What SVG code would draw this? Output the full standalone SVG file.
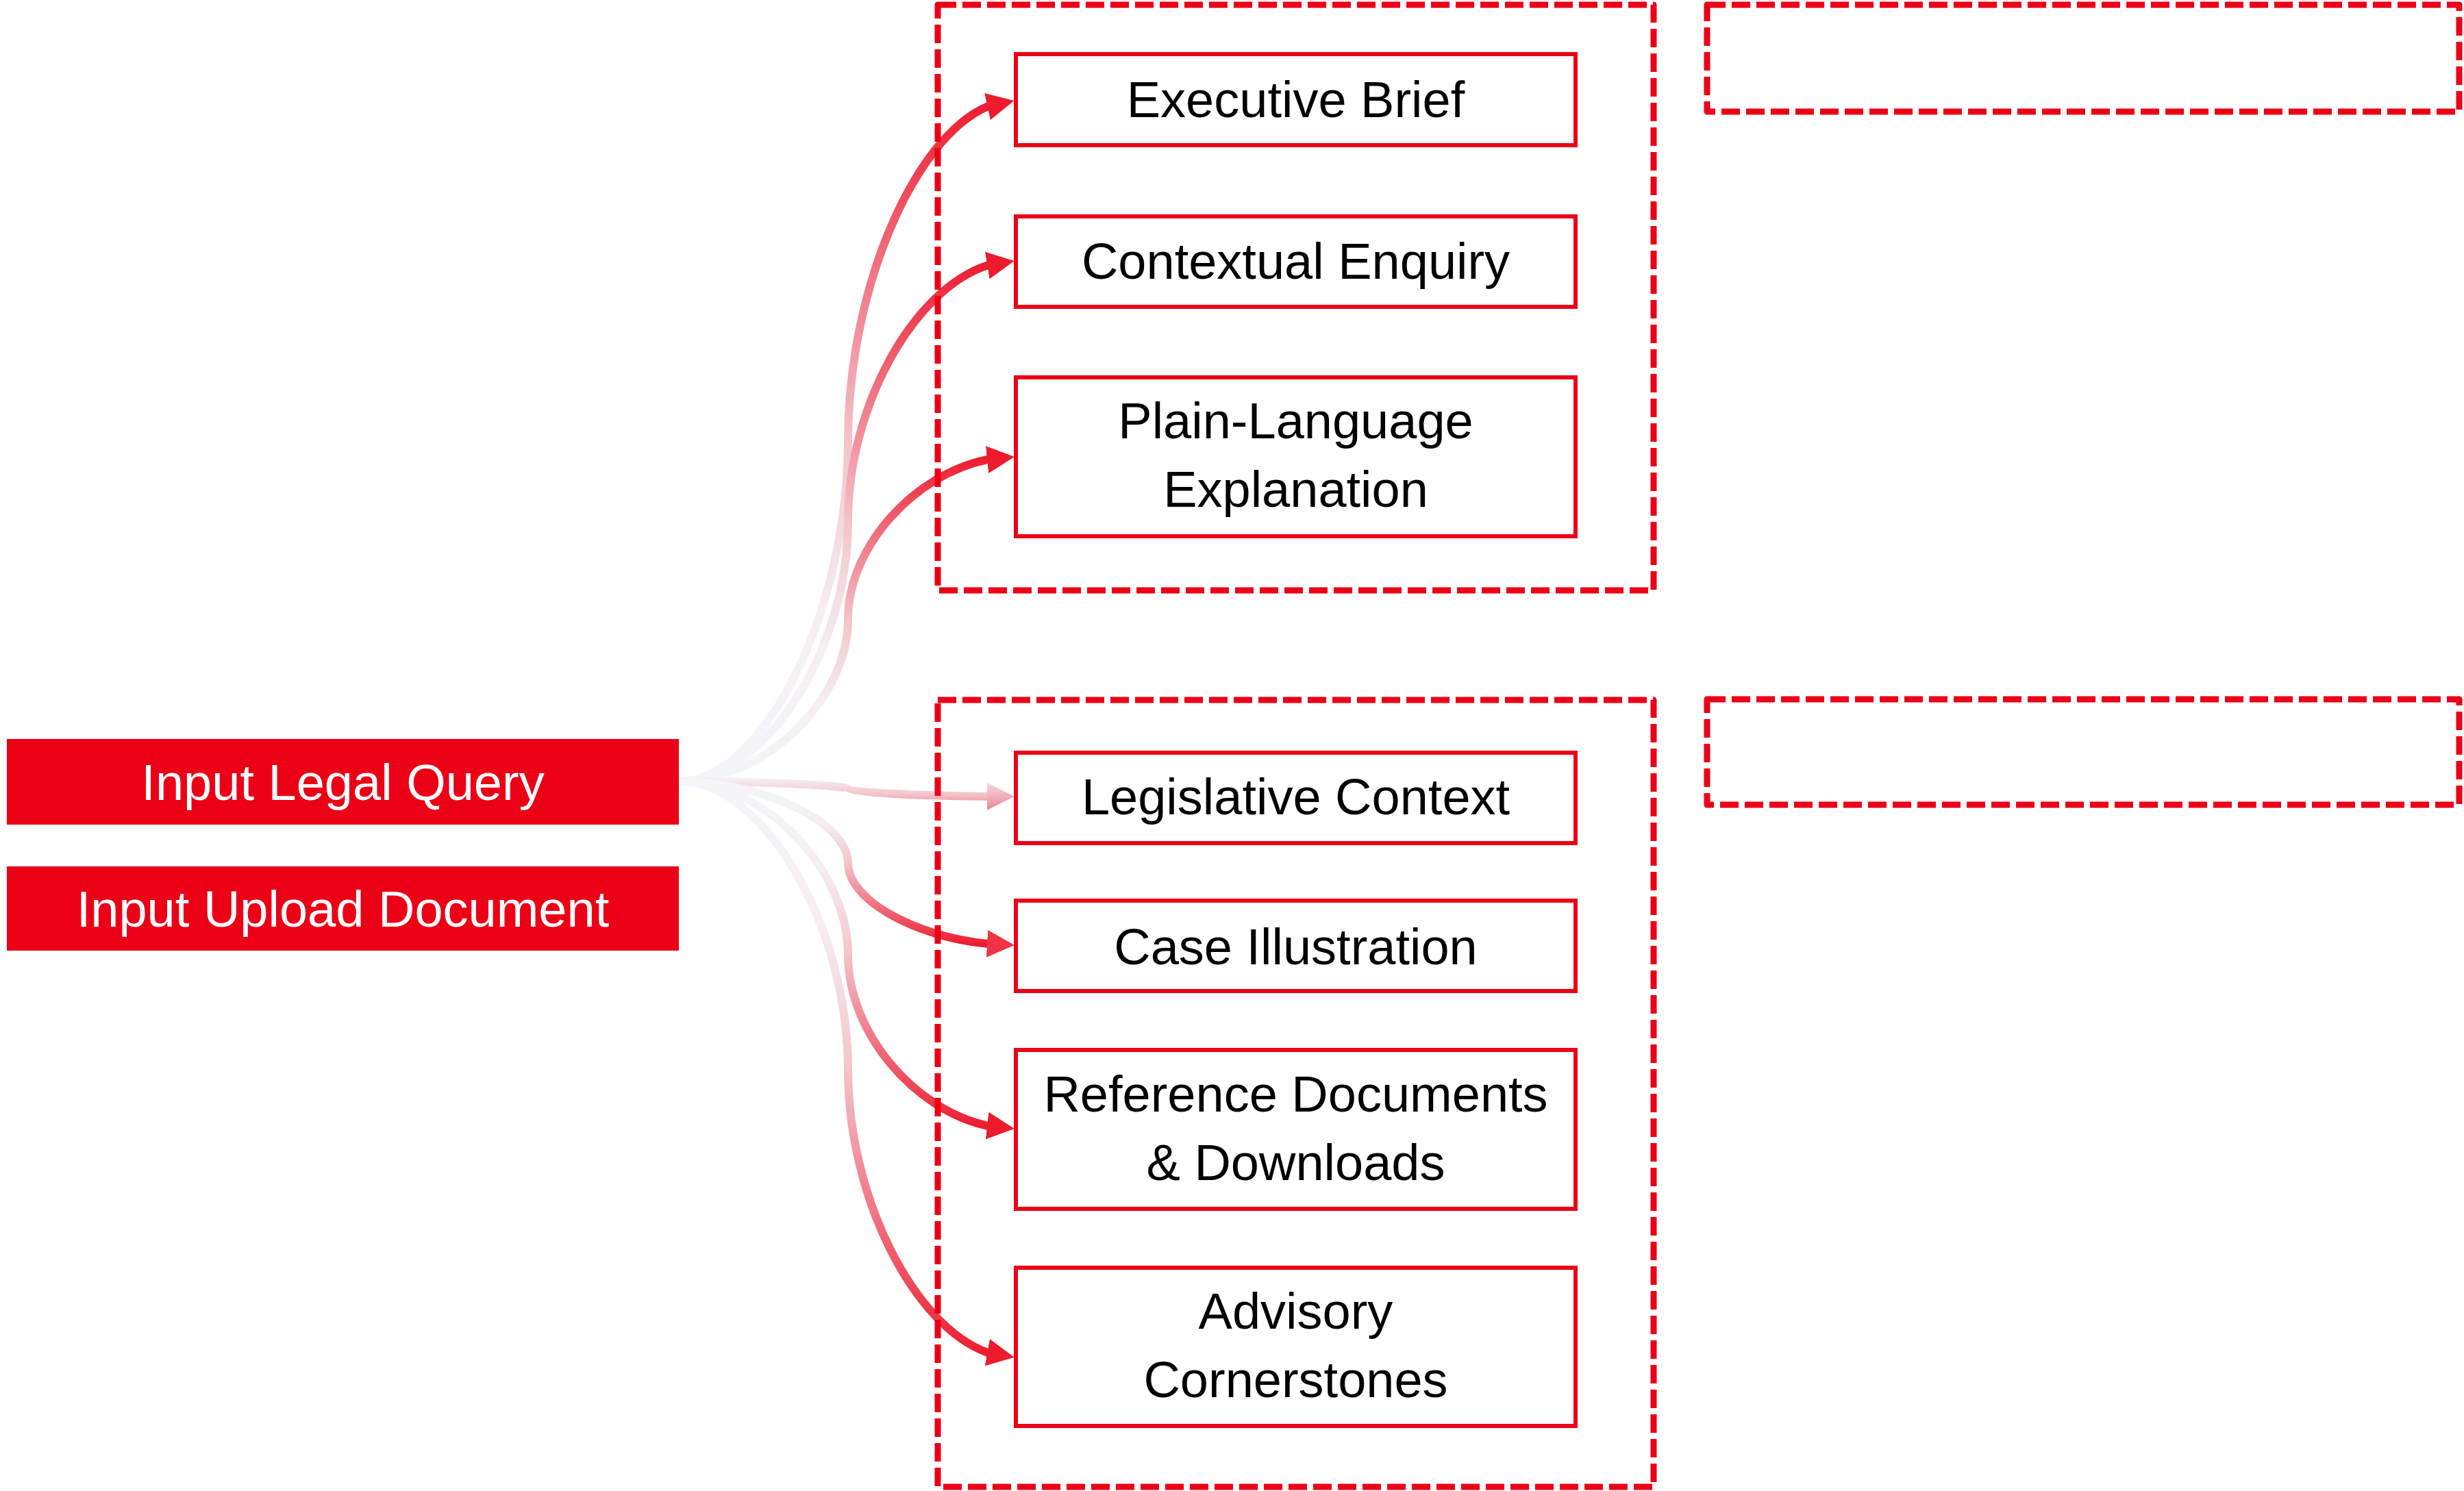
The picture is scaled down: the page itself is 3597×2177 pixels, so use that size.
<svg xmlns="http://www.w3.org/2000/svg" xmlns:xlink="http://www.w3.org/1999/xlink" width="3597" height="2177" viewBox="0 0 3597 2177">
  <style>
    .txt { font-family: "Liberation Sans", Arial, sans-serif; font-size: 74px; text-anchor: middle; }
    .dark { fill: #000000; }
    .light { fill: #FFFFFF; }
    .node { fill: #FFFFFF; stroke: #EC0016; stroke-width: 6; }
    .input { fill: #EC0016; }
    .group { fill: none; stroke: #EC0016; stroke-width: 9; stroke-dasharray: 27 9; stroke-linejoin: round; }
    .conn { fill: none; stroke-width: 12; stroke-linecap: butt; }
  </style>
  <defs>
    <linearGradient id="gBase">
      <stop offset="0" stop-color="#F5F6FA"/>
      <stop offset="0.25" stop-color="#F5EEF2"/>
      <stop offset="0.5" stop-color="#F3C4CB"/>
      <stop offset="0.75" stop-color="#F07482"/>
      <stop offset="1" stop-color="#ED1B2E"/>
    </linearGradient>
    <linearGradient id="gExec" xlink:href="#gBase" href="#gBase" gradientUnits="userSpaceOnUse" x1="0" y1="1141" x2="0" y2="146"/>
    <linearGradient id="gCtx" xlink:href="#gBase" href="#gBase" gradientUnits="userSpaceOnUse" x1="0" y1="1141" x2="0" y2="382"/>
    <linearGradient id="gPlain" xlink:href="#gBase" href="#gBase" gradientUnits="userSpaceOnUse" x1="0" y1="1141" x2="0" y2="667"/>
    <linearGradient id="gLeg" xlink:href="#gBase" href="#gBase" gradientUnits="userSpaceOnUse" x1="0" y1="1115" x2="0" y2="1205"/>
    <linearGradient id="gCase" xlink:href="#gBase" href="#gBase" gradientUnits="userSpaceOnUse" x1="0" y1="1141" x2="0" y2="1380"/>
    <linearGradient id="gRef" xlink:href="#gBase" href="#gBase" gradientUnits="userSpaceOnUse" x1="0" y1="1141" x2="0" y2="1647"/>
    <linearGradient id="gAdv" xlink:href="#gBase" href="#gBase" gradientUnits="userSpaceOnUse" x1="0" y1="1141" x2="0" y2="1982"/>
    <linearGradient id="gPinkArrow" x1="0" y1="0" x2="0" y2="1">
      <stop offset="0" stop-color="#F5D8DE"/>
      <stop offset="1" stop-color="#EE8896"/>
    </linearGradient>
    <marker id="arrRed" viewBox="0 0 40 40" refX="20" refY="20" markerWidth="40" markerHeight="40" markerUnits="userSpaceOnUse" orient="auto">
      <path d="M0,0 L40,20 L0,40 z" fill="#ED1B2E"/>
    </marker>
    <marker id="arrMid" viewBox="0 0 40 40" refX="20" refY="20" markerWidth="40" markerHeight="40" markerUnits="userSpaceOnUse" orient="auto">
      <path d="M0,0 L40,20 L0,40 z" fill="#EE3446"/>
    </marker>
    <marker id="arrPink" viewBox="0 0 40 40" refX="20" refY="20" markerWidth="40" markerHeight="40" markerUnits="userSpaceOnUse" orient="auto">
      <path d="M0,0 L40,20 L0,40 z" fill="url(#gPinkArrow)"/>
    </marker>
  </defs>

  <rect width="3597" height="2177" fill="#FFFFFF"/>

  <g id="connectors">
    <path id="c-exec" class="conn" stroke="url(#gExec)" marker-end="url(#arrRed)" d="M 991 1141 C 1114.5 1141 1238 892.5 1238 644 C 1238 422.8 1334.2 201.7 1441 155.7 L 1461 151.3"/>
    <path id="c-ctx" class="conn" stroke="url(#gCtx)" marker-end="url(#arrRed)" d="M 991 1141 C 1114.5 1141 1238 951 1238 761 C 1238 591.9 1334.2 422.8 1441 387.6 L 1461 384.3"/>
    <path id="c-plain" class="conn" stroke="url(#gPlain)" marker-end="url(#arrRed)" d="M 991 1141 C 1114.5 1141 1238 1022.5 1238 904 C 1238 798.5 1334.2 693.1 1441 671.1 L 1461 669.1"/>
    <path id="c-leg" class="conn" stroke="url(#gLeg)" marker-end="url(#arrPink)" d="M 991 1141 C 1114.5 1141 1238 1146.5 1238 1152 C 1238 1156.9 1334.2 1161.8 1441 1162.8 L 1461 1162.9"/>
    <path id="c-case" class="conn" stroke="url(#gCase)" marker-end="url(#arrMid)" d="M 991 1141 C 1114.5 1141 1238 1200.8 1238 1260.5 C 1238 1313.7 1334.2 1366.9 1441 1377.9 L 1461 1379"/>
    <path id="c-ref" class="conn" stroke="url(#gRef)" marker-end="url(#arrRed)" d="M 991 1141 C 1114.5 1141 1238 1267.8 1238 1394.5 C 1238 1507.3 1334.2 1620.1 1441 1643.6 L 1461 1645.8"/>
    <path id="c-adv" class="conn" stroke="url(#gAdv)" marker-end="url(#arrRed)" d="M 991 1141 C 1114.5 1141 1238 1351.3 1238 1561.5 C 1238 1748.6 1334.2 1935.8 1441 1974.7 L 1461 1978.3"/>
  </g>

  <g id="group-top">
    <rect class="group" x="1369" y="7" width="1045" height="855"/>
  </g>
  <g id="group-bottom">
    <rect class="group" x="1369" y="1022" width="1045" height="1149"/>
  </g>
  <g id="group-right-top">
    <rect class="group" x="2492" y="7" width="1098" height="156"/>
  </g>
  <g id="group-right-bottom">
    <rect class="group" x="2492" y="1021" width="1098" height="154"/>
  </g>

  <g id="input-legal-query">
    <rect class="input" x="10" y="1079" width="981" height="125"/>
    <text class="txt light" x="500.5" y="1168">Input Legal Query</text>
  </g>
  <g id="input-upload-document">
    <rect class="input" x="10" y="1265" width="981" height="123"/>
    <text class="txt light" x="500.5" y="1353">Input Upload Document</text>
  </g>

  <g id="executive-brief">
    <rect class="node" x="1483" y="79" width="817" height="133"/>
    <text class="txt dark" x="1891.5" y="171">Executive Brief</text>
  </g>
  <g id="contextual-enquiry">
    <rect class="node" x="1483" y="316" width="817" height="132"/>
    <text class="txt dark" x="1891.5" y="407">Contextual Enquiry</text>
  </g>
  <g id="plain-language-explanation">
    <rect class="node" x="1483" y="551" width="817" height="232"/>
    <text class="txt dark" x="1891.5" y="640">Plain-Language</text>
    <text class="txt dark" x="1891.5" y="740">Explanation</text>
  </g>
  <g id="legislative-context">
    <rect class="node" x="1483" y="1099" width="817" height="132"/>
    <text class="txt dark" x="1891.5" y="1189">Legislative Context</text>
  </g>
  <g id="case-illustration">
    <rect class="node" x="1483" y="1315" width="817" height="132"/>
    <text class="txt dark" x="1891.5" y="1408">Case Illustration</text>
  </g>
  <g id="reference-documents">
    <rect class="node" x="1483" y="1533" width="817" height="232"/>
    <text class="txt dark" x="1891.5" y="1623">Reference Documents</text>
    <text class="txt dark" x="1891.5" y="1723">&amp; Downloads</text>
  </g>
  <g id="advisory-cornerstones">
    <rect class="node" x="1483" y="1851" width="817" height="231"/>
    <text class="txt dark" x="1891.5" y="1940">Advisory</text>
    <text class="txt dark" x="1891.5" y="2040">Cornerstones</text>
  </g>
</svg>
